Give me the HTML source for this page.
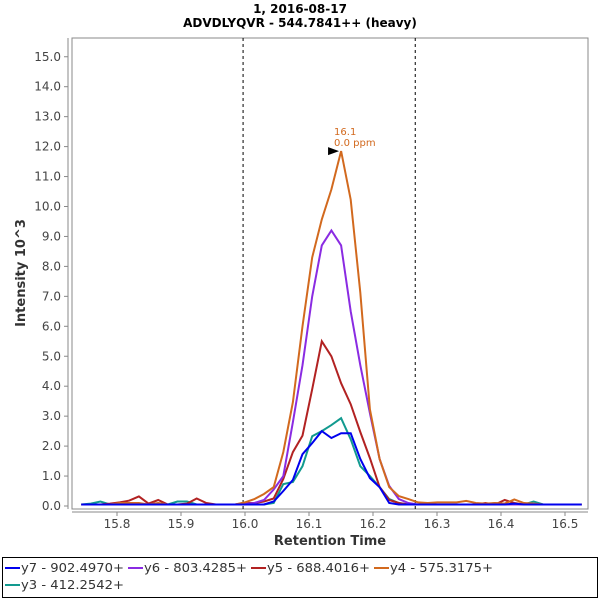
<!DOCTYPE html>
<html><head><meta charset="utf-8"><style>
body{margin:0;background:#fff;width:600px;height:600px;overflow:hidden;font-family:"Liberation Sans","DejaVu Sans",sans-serif}
svg text{font-family:"DejaVu Sans","Liberation Sans",sans-serif}
</style></head><body>
<svg id="chart" width="600" height="600">
<text x="300" y="13" text-anchor="middle" font-size="12" font-weight="bold">1, 2016-08-17</text>
<text x="300" y="27" text-anchor="middle" font-size="12" font-weight="bold">ADVDLYQVR - 544.7841++ (heavy)</text>
<rect x="72" y="38" width="516" height="471" fill="#fff" stroke="#888"/>
<line x1="68" y1="38" x2="68" y2="509" stroke="#888"/>
<line x1="72" y1="512" x2="588" y2="512" stroke="#888"/>
<g id="yt"></g><g id="xt"></g><g id="series"></g>
<text transform="translate(25,273) rotate(-90)" text-anchor="middle" font-size="13" font-weight="bold" fill="#333">Intensity 10^3</text>
<text x="330" y="545" text-anchor="middle" font-size="13" font-weight="bold" fill="#333">Retention Time</text>
<rect x="2.5" y="557.5" width="595" height="40" fill="#fff" stroke="#000"/>
<g id="legend"></g>
</svg>
<script>
const categories = ["y7 - 902.4970+","y6 - 803.4285+","y5 - 688.4016+","y4 - 575.3175+","y3 - 412.2542+"];
const colors = ["#0000ee","#8a2be2","#b22222","#d2691e","#129a8f"];
const tStart = 15.744, tStep = 0.01504;
const yTicks = [0,1,2,3,4,5,6,7,8,9,10,11,12,13,14,15];
const xTicks = [15.8,15.9,16.0,16.1,16.2,16.3,16.4,16.5];
const boundaries = [15.997,16.266];
const peakLabels = ["16.1","0.0 ppm"];
const y7 = [0.05,0.05,0.05,0.05,0.05,0.05,0.05,0.05,0.05,0.05,0.05,0.05,0.05,0.05,0.05,0.05,0.05,
 0.05,0.05,0.05,0.15,0.5,0.87,1.73,2.1,2.5,2.27,2.43,2.43,1.57,0.93,0.63,0.1,0.05,0.05,0.05,
 0.05,0.05,0.05,0.05,0.05,0.05,0.05,0.05,0.05,0.08,0.05,0.05,0.05,0.05,0.05,0.05,0.05];
const y6 = [0.05,0.05,0.05,0.05,0.05,0.05,0.05,0.05,0.05,0.05,0.05,0.05,0.05,0.05,0.05,0.05,0.05,
 0.07,0.1,0.2,0.55,1.0,2.8,4.7,7.0,8.7,9.2,8.7,6.5,4.7,3.1,1.57,0.67,0.23,0.1,0.05,
 0.05,0.05,0.05,0.05,0.05,0.05,0.05,0.05,0.05,0.05,0.05,0.05,0.05,0.05,0.05,0.05,0.05];
const y5 = [0.05,0.05,0.05,0.08,0.12,0.18,0.32,0.08,0.2,0.05,0.05,0.08,0.25,0.1,0.05,0.05,0.05,
 0.1,0.1,0.15,0.25,0.9,1.8,2.35,3.9,5.5,5.0,4.1,3.4,2.47,1.6,0.63,0.2,0.1,0.05,0.05,
 0.05,0.05,0.05,0.05,0.05,0.05,0.1,0.05,0.2,0.1,0.05,0.05,0.05,0.05,0.05,0.05,0.05];
const y4 = [0.05,0.05,0.05,0.05,0.1,0.1,0.1,0.05,0.1,0.05,0.05,0.05,0.05,0.05,0.05,0.05,0.05,
 0.12,0.23,0.4,0.63,1.8,3.47,6.0,8.3,9.57,10.57,11.85,10.23,7.13,3.23,1.57,0.63,0.33,0.23,0.12,
 0.1,0.12,0.12,0.12,0.17,0.1,0.08,0.1,0.08,0.22,0.1,0.08,0.05,0.05,0.05,0.05,0.05];
const y3 = [0.05,0.08,0.15,0.05,0.05,0.05,0.05,0.05,0.05,0.05,0.15,0.15,0.05,0.05,0.05,0.05,0.05,
 0.05,0.05,0.05,0.1,0.73,0.8,1.33,2.33,2.5,2.7,2.93,2.23,1.33,1.0,0.63,0.23,0.1,0.05,0.05,
 0.05,0.05,0.05,0.05,0.05,0.05,0.05,0.1,0.05,0.05,0.05,0.15,0.05,0.05,0.05,0.05,0.05];
const series = [y7,y6,y5,y4,y3];
const drawOrder = [4,2,1,3,0];
const NS="http://www.w3.org/2000/svg";
const xs = t => 245 + (t-16.0)*640;
const ys = v => 506 - v*29.95;
function mk(tag,attrs,parent){const e=document.createElementNS(NS,tag);for(const k in attrs)e.setAttribute(k,attrs[k]);parent.appendChild(e);return e;}
const yt=document.getElementById('yt');
yTicks.forEach(v=>{
 const l=mk('line',{x1:64,x2:68,y1:ys(v),y2:ys(v),stroke:'#888'},yt);
 
 
 const t=mk('text',{x:61,y:ys(v)+4,'text-anchor':'end','font-size':12,fill:'#444'},yt);
 
 
 t.textContent=v.toFixed(1);
});
const xt=document.getElementById('xt');
xTicks.forEach(v=>{
 const l=mk('line',{x1:xs(v),x2:xs(v),y1:512,y2:516,stroke:'#888'},xt);
 
 
 const t=mk('text',{x:xs(v),y:528,'text-anchor':'middle','font-size':12,fill:'#444'},xt);
 
 
 t.textContent=v.toFixed(1);
});
const sg=document.getElementById('series');
boundaries.forEach(b=>{
 const l=mk('line',{x1:xs(b),x2:xs(b),y1:38,y2:509,stroke:'#000','stroke-dasharray':'3,3'},sg);
 
 
});
drawOrder.forEach(i=>{
 const pts=series[i].map((v,k)=>xs(tStart+k*tStep).toFixed(1)+','+ys(v).toFixed(1)).join(' ');
 const p=mk('polyline',{points:pts,fill:'none',stroke:colors[i],'stroke-width':2},sg);
 
 
});
let pk=0;y4.forEach((v,k)=>{if(v>y4[pk])pk=k;});
const px=xs(tStart+pk*tStep), py=ys(y4[pk]);
const ar=mk('polygon',{points:`${px-13},${py-4} ${px-2},${py} ${px-13},${py+4}`,fill:'#000'},sg);


const a1=mk('text',{x:px-7,y:py-16,'font-size':10,fill:'#d2691e'},sg);


a1.textContent=peakLabels[0];
const a2=mk('text',{x:px-7,y:py-5,'font-size':10,fill:'#d2691e'},sg);


a2.textContent=peakLabels[1];
const lg=document.getElementById('legend');
const lpos=[[5,572],[128,572],[251,572],[374,572],[5,589]];
categories.forEach((c,i)=>{
 const [x,y]=lpos[i];
 const g=mk('g',{},lg);
 
 
 mk('line',{x1:x,x2:x+15,y1:y-4,y2:y-4,stroke:colors[i],'stroke-width':2},g);
 const t=mk('text',{x:x+16,y:y,'font-size':12,fill:'#333',textLength:103,lengthAdjust:'spacingAndGlyphs'},g);
 t.textContent=c;
});
</script>
</body></html>
